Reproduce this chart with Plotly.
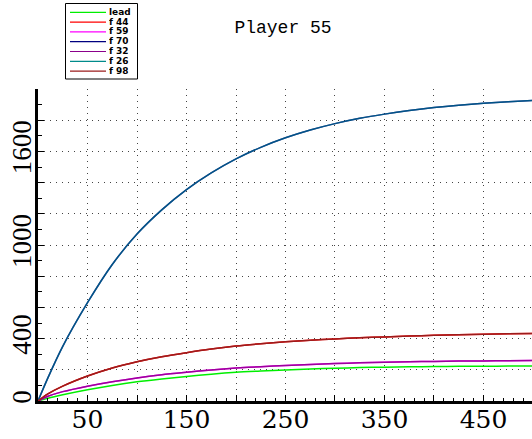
import plotly.graph_objects as go

# ---- data ----
x_vals = [0, 10, 25, 50, 75, 100, 125, 150, 175, 200, 225, 250, 275, 300, 325, 350, 375, 400, 425, 450, 475, 500]
lead = [0, 18, 40, 72, 100, 123, 141, 157, 172, 184, 192, 199, 205, 210, 214, 217, 219, 221, 222, 223, 224, 225]
f44 = [0, 45, 95, 160, 212, 252, 284, 310, 333, 352, 367, 380, 390, 398, 405, 411, 416, 421, 425, 428, 431, 433]
f59 = [0, 30, 60, 95, 124, 148, 168, 184, 199, 211, 220, 228, 234, 240, 245, 249, 252, 254, 256, 257, 258, 260]
f70 = [0, 148, 350, 630, 875, 1070, 1225, 1355, 1462, 1552, 1626, 1687, 1737, 1778, 1812, 1839, 1862, 1881, 1896, 1908, 1918, 1926]
f32 = [0, 30, 60, 95, 124, 148, 168, 184, 199, 211, 220, 228, 234, 240, 245, 249, 252, 254, 256, 257, 258, 260]
f26 = [0, 148, 350, 630, 875, 1070, 1225, 1355, 1462, 1552, 1626, 1687, 1737, 1778, 1812, 1839, 1862, 1881, 1896, 1908, 1918, 1926]
f98 = [0, 45, 95, 160, 212, 252, 284, 310, 333, 352, 367, 380, 390, 398, 405, 411, 416, 421, 425, 428, 431, 433]

names = ["lead", "f 44", "f 59", "f 70", "f 32", "f 26", "f 98"]
series = [lead, f44, f59, f70, f32, f26, f98]
colors = ["#00ee00", "#ff0000", "#ff00ff", "#000080", "#8b008b", "#008b8b", "#9b1c1c"]
opac = [1, 1, 1, 1, 0.85, 0.6, 1]

x_tickvals = [50, 100, 150, 200, 250, 300, 350, 400, 450]
x_ticktext = ["50", "", "150", "", "250", "", "350", "", "450"]
y_tickvals = [0, 200, 400, 600, 800, 1000, 1200, 1400, 1600, 1800, 2000]
y_ticktext = ["0", "", "400", "", "", "1000", "", "", "1600", "", ""]

fig = go.Figure()
for n, s, c, o in zip(names, series, colors, opac):
    fig.add_trace(go.Scatter(x=x_vals, y=s, mode="lines", name=n,
                             line=dict(color=c, width=1.5, shape="spline", smoothing=0.8),
                             opacity=o, showlegend=False))

W, H = 532, 439
L, R, T, B = 38, 0, 89, 38
pw, ph = W - L - R, H - T - B

def px2paper(px, py):
    return (px - L) / pw, (H - B - py) / ph

# manual legend
x0, y0 = px2paper(65.5, 3.5)
x1, y1 = px2paper(137.5, 79)
shapes = [dict(type="rect", xref="paper", yref="paper", x0=x0, y0=y0, x1=x1, y1=y1,
               line=dict(color="black", width=1), fillcolor="white", layer="above")]
annots = []
row_y = [12.3, 22.1, 31.9, 41.7, 51.5, 61.3, 71.1]
for n, c, ry in zip(names, colors, row_y):
    lx0, ly = px2paper(70, ry)
    lx1, _ = px2paper(106, ry)
    shapes.append(dict(type="line", xref="paper", yref="paper", x0=lx0, x1=lx1, y0=ly, y1=ly,
                       line=dict(color=c, width=1.2), layer="above"))
    tx, _ = px2paper(107.5, ry)
    annots.append(dict(xref="paper", yref="paper", x=tx, y=ly, text="<b>" + n + "</b>",
                       showarrow=False, xanchor="left", yanchor="middle", height=8.5,
                       borderpad=0,
                       font=dict(family="DejaVu Sans", size=9, color="black")))

grid_dash = "1px,5px"
fig.update_layout(
    width=W, height=H,
    margin=dict(l=L, r=R, t=T, b=B, pad=0, autoexpand=False),
    plot_bgcolor="white", paper_bgcolor="white",
    title=dict(text="Player 55", x=283 / W, xanchor="center", y=1 - 27 / H, yanchor="middle",
               font=dict(family="Liberation Mono", size=18, color="black")),
    shapes=shapes, annotations=annots,
    xaxis=dict(range=[0, 499], tickmode="array", tickvals=x_tickvals, ticktext=x_ticktext,
               showline=True, linecolor="black", linewidth=2.5, mirror=False, automargin=False,
               ticks="inside", ticklen=6, tickcolor="black", tickwidth=1,
               showgrid=True, gridcolor="#444", griddash=grid_dash, gridwidth=1,
               zeroline=False, ticklabelstandoff=-6,
               tickfont=dict(family="DejaVu Serif", size=25, color="black"),
               minor=dict(tickmode="linear", tick0=0, dtick=10, ticks="inside", ticklen=3,
                          tickcolor="black", showgrid=False)),
    yaxis=dict(range=[0, 2000], tickmode="array", tickvals=y_tickvals, ticktext=y_ticktext,
               showline=True, linecolor="black", linewidth=2.5, mirror=False, automargin=False,
               ticks="inside", ticklen=6, tickcolor="black", tickwidth=1,
               showgrid=True, gridcolor="#444", griddash=grid_dash, gridwidth=1,
               zeroline=False, tickangle=-90, ticklabelstandoff=-7,
               tickfont=dict(family="Liberation Serif", size=27, color="black"),
               minor=dict(tickmode="linear", tick0=0, dtick=100, ticks="inside", ticklen=4,
                          tickcolor="black", showgrid=False)),
)

fig.write_html("out.html")
